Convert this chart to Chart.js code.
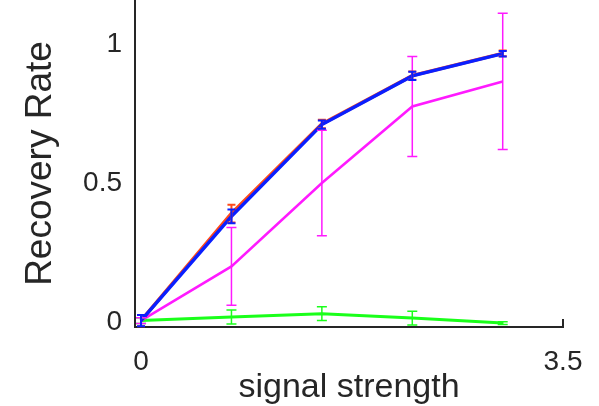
<!DOCTYPE html>
<html>
<head>
<meta charset="utf-8">
<script src="https://cdn.jsdelivr.net/npm/chart.js@4.4.0/dist/chart.umd.min.js"></script>
<style>
  html, body { margin: 0; padding: 0; background: #fff; }
  #wrap { width: 599px; height: 406px; }
</style>
</head>
<body>
<div id="wrap"><canvas id="grafico"></canvas></div>
<script>
// datos
const strength = [0, 0.75, 1.5, 2.25, 3];
const xTicks = [0, 3.5];
const yTicks = [0, 0.5, 1];

const blueRate = [0.005, 0.38, 0.71, 0.885, 0.965];
const blueErr = [0.02, 0.025, 0.015, 0.015, 0.01];
const redRate = [0.005, 0.39, 0.712, 0.886, 0.966];
const redErr = [0.02, 0.032, 0.015, 0.015, 0.01];
const magentaRate = [0.005, 0.2, 0.5, 0.775, 0.865];
const magentaErr = [0.01, 0.14, 0.19, 0.18, 0.245];
const greenRate = [0.005, 0.018, 0.03, 0.014, -0.004];
const greenErr = [0.01, 0.025, 0.025, 0.025, 0.005];

function puntos(vals) {
    return strength.map((x, i) => ({ x: x, y: vals[i] }));
}

function serie(label, vals, errs, color, width, errWidth, capW, order) {
    return {
        label: label,
        data: puntos(vals),
        errores: errs,
        borderColor: color,
        borderWidth: width,
        errWidth: errWidth,
        capW: capW,
        pointRadius: 0,
        tension: 0,
        fill: false,
        order: order
    };
}

// barras de error dibujadas con las escalas del grafico
const barrasError = {
    id: "barrasError",
    afterDatasetsDraw(chart) {
        const ctx = chart.ctx;
        const sx = chart.scales.x, sy = chart.scales.y;
        // orden inverso para que el azul quede arriba
        const ds = chart.data.datasets.slice().sort((a, b) => b.order - a.order);
        ctx.save();
        ds.forEach(d => {
            ctx.strokeStyle = d.borderColor;
            ctx.lineWidth = d.errWidth;
            d.data.forEach((p, i) => {
                const e = d.errores[i];
                const px = sx.getPixelForValue(p.x);
                const top = sy.getPixelForValue(p.y + e);
                const bot = sy.getPixelForValue(p.y - e);
                const w = d.capW / 2;
                ctx.beginPath();
                ctx.moveTo(px, top); ctx.lineTo(px, bot);
                ctx.moveTo(px - w, top); ctx.lineTo(px + w, top);
                ctx.moveTo(px - w, bot); ctx.lineTo(px + w, bot);
                ctx.stroke();
            });
        });
        // marca al final del eje x
        const xr = sx.getPixelForValue(3.5);
        ctx.strokeStyle = "#262626";
        ctx.lineWidth = 2;
        ctx.beginPath();
        ctx.moveTo(xr, chart.chartArea.bottom);
        ctx.lineTo(xr, chart.chartArea.bottom - 8);
        ctx.stroke();
        ctx.restore();
    }
};

const fuente = "'Liberation Sans', Arial, sans-serif";

document.addEventListener("DOMContentLoaded", function () {
    const ctx = document.getElementById("grafico").getContext("2d");
    new Chart(ctx, {
        type: "line",
        data: {
            datasets: [
                serie("blue", blueRate, blueErr, "#0a1fff", 3.5, 2, 8, 1),
                serie("red", redRate, redErr, "#ff4a1a", 3.5, 2, 8, 2),
                serie("magenta", magentaRate, magentaErr, "#ff1aff", 2.5, 1.5, 10, 3),
                serie("green", greenRate, greenErr, "#1aff1a", 3, 1.5, 10, 4)
            ]
        },
        options: {
            responsive: true,
            maintainAspectRatio: false,
            animation: false,
            layout: { padding: { left: 0, right: 36, top: 0, bottom: 0 } },
            plugins: {
                legend: { display: false },
                tooltip: { enabled: false }
            },
            scales: {
                x: {
                    type: "linear",
                    min: -0.05,
                    max: 3.5,
                    afterBuildTicks: s => { s.ticks = xTicks.map(v => ({ value: v })); },
                    afterFit: s => { s.height = 79; s.paddingLeft = 0; s.paddingRight = 0; },
                    grid: { display: false, drawTicks: false },
                    border: { display: true, color: "#262626", width: 2 },
                    ticks: {
                        color: "#262626",
                        font: { family: fuente, size: 28 },
                        padding: 18,
                        maxRotation: 0,
                        callback: v => String(v)
                    },
                    title: {
                        display: true,
                        text: "signal strength",
                        color: "#262626",
                        font: { family: fuente, size: 34, lineHeight: 1 },
                        padding: { top: 0, bottom: 1 }
                    }
                },
                y: {
                    type: "linear",
                    min: -0.018,
                    max: 1.158,
                    afterBuildTicks: s => { s.ticks = yTicks.map(v => ({ value: v })); },
                    afterFit: s => { s.width = 135; s.paddingTop = 0; s.paddingBottom = 0; },
                    grid: { display: false, drawTicks: false },
                    border: { display: true, color: "#262626", width: 2 },
                    ticks: {
                        color: "#262626",
                        font: { family: fuente, size: 28 },
                        padding: 13,
                        callback: v => String(v)
                    },
                    title: {
                        display: true,
                        text: "Recovery Rate",
                        color: "#262626",
                        font: { family: fuente, size: 37, lineHeight: 1 },
                        padding: { top: 22, bottom: 0 }
                    }
                }
            }
        },
        plugins: [barrasError]
    });
});
</script>
</body>
</html>
